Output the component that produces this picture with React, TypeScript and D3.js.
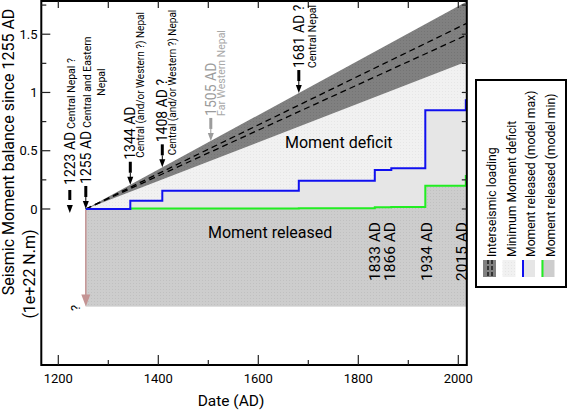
import React from 'react';
import * as d3 from 'd3';

// ---------- data ----------
const releaseYears = [1255, 1344, 1408, 1681, 1833, 1866, 1934, 2015];
const releasedMax = [0, 0.071, 0.157, 0.242, 0.334, 0.349, 0.848, 0.934];
const releasedMin = [0, 0.004, 0.005, 0.006, 0.015, 0.017, 0.2, 0.283];
const loadingYears = [1255, 2017];
const loadingUpper = [0, 1.78];
const loadingLower = [0, 1.265];
const loadingMidHigh = [0, 1.594];
const loadingMidLow = [0, 1.494];
const releaseFloor = -0.837;

const eventYears = [1223, 1255, 1344, 1408, 1505, 1681];
const eventLabels = ['1223 AD', '1255 AD', '1344 AD', '1408 AD ?', '1505 AD', '1681 AD ?'];
const eventRegions = [
  ['Central Nepal ?'],
  ['Central and Eastern', 'Nepal'],
  ['Central (and/or Western ?) Nepal'],
  ['Central (and/or Western ?) Nepal'],
  ['Far Western Nepal'],
  ['Central Nepal'],
];
const bottomYears = [1833, 1866, 1934, 2015];
const bottomLabels = ['1833 AD', '1866 AD', '1934 AD', '2015 AD'];

const xTicks = [1200, 1300, 1400, 1500, 1600, 1700, 1800, 1900, 2000];
const xTickLabels = [1200, 1400, 1600, 1800, 2000];
const yTicks = [0, 0.25, 0.5, 0.75, 1, 1.25, 1.5, 1.75];
const yTickLabels = [0, 0.5, 1, 1.5];
const legendLabels = [
  'Interseismic loading',
  'Minimum Moment deficit',
  'Moment released (model max)',
  'Moment released (model min)',
];

// ---------- layout ----------
const W = 567;
const H = 410;
const L = 41.3, R = 466.8, T = 1, B = 365;
const FONT = 'Roboto, sans-serif';

let _ctx: CanvasRenderingContext2D | null = null;
function tw(text: string, size: number) {
  if (!_ctx && typeof document !== 'undefined') _ctx = document.createElement('canvas').getContext('2d');
  if (!_ctx) return text.length * size * 0.5;
  _ctx.font = `${size}px Roboto`;
  return _ctx.measureText(text).width;
}

function RotText(props: { x: number; y: number; size: number; fill?: string; anchor?: string; children: any }) {
  const { x, y, size, fill = '#000', anchor = 'start', children } = props;
  return (
    <text transform={`translate(${x},${y}) rotate(-90)`} fontSize={size} fill={fill} textAnchor={anchor} fontFamily={FONT}>
      {children}
    </text>
  );
}

export default function App() {
  const x = d3.scaleLinear().domain([1166, 2017]).range([L, R]);
  const y = d3.scaleLinear().domain([-1.339, 1.785]).range([B, T]);

  const upperAt = d3.scaleLinear().domain(loadingYears).range(loadingUpper);

  const stepPts = (vals: number[]) => {
    const pts = releaseYears.map((yr, i) => [yr, vals[i]] as [number, number]);
    pts.push([x.domain()[1], vals[vals.length - 1]]);
    return pts;
  };
  const stepLine = d3.line<[number, number]>().curve(d3.curveStepAfter).x(d => x(d[0])).y(d => y(d[1]));
  const stepArea = d3.area<[number, number]>().curve(d3.curveStepAfter).x(d => x(d[0])).y0(y(releaseFloor)).y1(d => y(d[1]));

  const loadPts = (a: number[], b: number[]) => loadingYears.map((yr, i) => ({ yr, a: a[i], b: b[i] }));
  const bandArea = d3.area<any>().x(d => x(d.yr)).y0(d => y(d.a)).y1(d => y(d.b));
  const lineL = d3.line<any>().x(d => x(d.yr)).y(d => y(d.a));

  const maxPts = stepPts(releasedMax);
  const minPts = stepPts(releasedMin);
  const zeroArr = loadingYears.map(() => 0);

  const ax0 = x(1255);
  const yF = y(releaseFloor);

  return (
    <svg width={W} height={H} style={{ position: 'absolute', left: 0, top: 0, background: '#fff' }} fontFamily={FONT}>
      <defs>
        <clipPath id="plot">
          <rect x={L} y={T} width={R - L} height={B - T} />
        </clipPath>
        <pattern id="pBand" width={3} height={3} patternUnits="userSpaceOnUse">
          <rect width={3} height={3} fill="#808080" />
          <rect x={1} y={1} width={1} height={1} fill="#747474" />
        </pattern>
        <pattern id="pLight" width={3} height={3} patternUnits="userSpaceOnUse">
          <rect width={3} height={3} fill="#f1f1f1" />
          <rect x={1} y={1} width={1} height={1} fill="#e6e6e6" />
        </pattern>
        <pattern id="pGray" width={3} height={3} patternUnits="userSpaceOnUse">
          <rect width={3} height={3} fill="#cdcdcd" />
          <rect x={1} y={1} width={1} height={1} fill="#c0c0c0" />
        </pattern>
      </defs>

      <g clipPath="url(#plot)">
        <path d={bandArea(loadPts(zeroArr, loadingLower)) || ''} fill="url(#pLight)" />
        <path d={stepArea(maxPts) || ''} fill="#e6e6e6" />
        <path d={stepArea(minPts) || ''} fill="url(#pGray)" />
        <path d={bandArea(loadPts(loadingLower, loadingUpper)) || ''} fill="url(#pBand)" />
        <path d={lineL(loadPts(loadingMidHigh, loadingMidHigh)) || ''} stroke="#000" strokeWidth={1.3} strokeDasharray="6,4" fill="none" />
        <path d={lineL(loadPts(loadingMidLow, loadingMidLow)) || ''} stroke="#000" strokeWidth={1.3} strokeDasharray="6,4" fill="none" />
        <path d={stepLine(minPts) || ''} stroke="#22ee22" strokeWidth={2} fill="none" />
        <path d={stepLine(maxPts) || ''} stroke="#1010f0" strokeWidth={2} fill="none" />
      </g>

      {/* unknown earlier release arrow */}
      <line x1={ax0} x2={ax0} y1={y(0) + 1} y2={yF - 10} stroke="#c49494" strokeWidth={1.5} />
      <polygon points={`${ax0 - 4.5},${yF - 12} ${ax0 + 4.5},${yF - 12} ${ax0},${yF}`} fill="#c49494" />
      <RotText x={80} y={311} size={13}>?</RotText>

      {/* frame */}
      <rect x={L} y={T} width={R - L} height={B - T} fill="none" stroke="#000" strokeWidth={2} />
      {xTicks.map(t => {
        const major = xTickLabels.includes(t);
        return (
          <g key={'xt' + t}>
            <line x1={x(t)} x2={x(t)} y1={B} y2={B - (major ? 10 : 5)} stroke="#222" strokeWidth={1.2} />
            <line x1={x(t)} x2={x(t)} y1={T} y2={T + 7} stroke="#222" strokeWidth={1.2} />
          </g>
        );
      })}
      {xTickLabels.map(t => (
        <text key={'xl' + t} x={x(t)} y={382.5} fontSize={13} textAnchor="middle">{t}</text>
      ))}
      {yTicks.map(t => {
        const major = yTickLabels.includes(t);
        return (
          <g key={'yt' + t}>
            <line x1={L} x2={L + (major ? 9 : 5)} y1={y(t)} y2={y(t)} stroke="#222" strokeWidth={1.2} />
            <line x1={R} x2={R - 5} y1={y(t)} y2={y(t)} stroke="#222" strokeWidth={1.2} />
          </g>
        );
      })}
      {yTickLabels.map(t => (
        <text key={'yl' + t} x={37.5} y={y(t)} dy="0.35em" fontSize={13} textAnchor="end">{t}</text>
      ))}

      {/* axis titles */}
      <text x={231} y={406} fontSize={15.5} textAnchor="middle">Date (AD)</text>
      <RotText x={14} y={152} size={16} anchor="middle">Seismic Moment balance since 1255 AD</RotText>
      <RotText x={35} y={274} size={16} anchor="middle">(1e+22 N.m)</RotText>

      {/* region labels */}
      <text x={285} y={148} fontSize={16}>Moment deficit</text>
      <text x={208} y={238} fontSize={16}>Moment released</text>

      {/* historical events */}
      {eventYears.map((yr, i) => {
        const ex = x(yr);
        const early = yr < 1255;
        const tip = early ? y(0) + 4 : y(upperAt(yr));
        const color = yr === 1505 ? '#9c9c9c' : '#000';
        const subColor = yr === 1505 ? '#a8a8a8' : '#000';
        const start = tip - (early ? 28 : 25);
        const mainSize = 14;
        const subSize = yr === 1344 || yr === 1408 ? 10 : 10.5;
        const base = ex + 5;
        const regions = eventRegions[i];
        const arrow = early ? (
          <g>
            <rect x={ex - 1.5} y={tip - 23} width={3} height={10} fill={color} />
            <polygon points={`${ex - 3},${tip - 8} ${ex + 3},${tip - 8} ${ex},${tip}`} fill={color} />
          </g>
        ) : (
          <g>
            <rect x={ex - 1.5} y={tip - 23} width={3} height={11} fill={color} />
            <line x1={ex} x2={ex} y1={tip - 12} y2={tip - 6} stroke={color} strokeWidth={1} />
            <polygon points={`${ex - 3},${tip - 8} ${ex + 3},${tip - 8} ${ex},${tip}`} fill={color} />
          </g>
        );
        let subs: any = null;
        if (i === 0) {
          subs = (
            <RotText x={base} y={start - tw(eventLabels[i], mainSize) - 3} size={subSize} fill={subColor}>{regions[0]}</RotText>
          );
        } else if (i === 1) {
          const c = start - tw(eventLabels[i], mainSize) - 3 - tw(regions[0], subSize) / 2;
          subs = (
            <g>
              <RotText x={base} y={c} size={subSize} anchor="middle" fill={subColor}>{regions[0]}</RotText>
              <RotText x={base + 14} y={c} size={subSize} anchor="middle" fill={subColor}>{regions[1]}</RotText>
            </g>
          );
        } else {
          const off = yr === 1681 ? 12 : 9;
          const subStart = yr === 1408 ? tip - 12 : yr === 1344 ? start - 2 : start;
          subs = (
            <RotText x={base + off} y={subStart} size={subSize} fill={subColor}>{regions[0]}</RotText>
          );
        }
        return (
          <g key={'ev' + yr}>
            {arrow}
            <RotText x={base} y={start} size={mainSize} fill={color}>{eventLabels[i]}</RotText>
            {subs}
          </g>
        );
      })}

      {/* recent events */}
      {bottomYears.map((yr, i) => {
        const offs = [5.5, 4, 7, 1];
        return (
          <RotText key={'b' + yr} x={x(yr) + offs[i]} y={281} size={15.5}>{bottomLabels[i]}</RotText>
        );
      })}

      {/* legend */}
      <rect x={476} y={80} width={90} height={207} fill="#fff" stroke="#000" strokeWidth={2} />
      {legendLabels.map((lab, i) => {
        const sx = 483 + i * 19.5;
        const sy = 260, sw = 13, sh = 17;
        let sw_: any = null;
        if (i === 0) {
          sw_ = (
            <g>
              <rect x={sx} y={sy} width={sw} height={sh} fill="#808080" />
              <line x1={sx + 5} x2={sx + 5} y1={sy} y2={sy + sh} stroke="#000" strokeWidth={1.2} strokeDasharray="4,2" />
              <line x1={sx + 9} x2={sx + 9} y1={sy} y2={sy + sh} stroke="#000" strokeWidth={1.2} strokeDasharray="4,2" />
            </g>
          );
        } else if (i === 1) {
          sw_ = <rect x={sx} y={sy} width={sw} height={sh} fill="url(#pLight)" />;
        } else if (i === 2) {
          sw_ = (
            <g>
              <rect x={sx} y={sy} width={sw} height={sh} fill="#e6e6e6" />
              <line x1={sx + 1} x2={sx + 1} y1={sy} y2={sy + sh} stroke="#1010f0" strokeWidth={2} />
            </g>
          );
        } else {
          sw_ = (
            <g>
              <rect x={sx} y={sy} width={sw} height={sh} fill="#cdcdcd" />
              <line x1={sx + 1} x2={sx + 1} y1={sy} y2={sy + sh} stroke="#22ee22" strokeWidth={2} />
            </g>
          );
        }
        return (
          <g key={'lg' + i}>
            {sw_}
            <RotText x={sx + 13} y={257} size={12.2}>{lab}</RotText>
          </g>
        );
      })}
    </svg>
  );
}
